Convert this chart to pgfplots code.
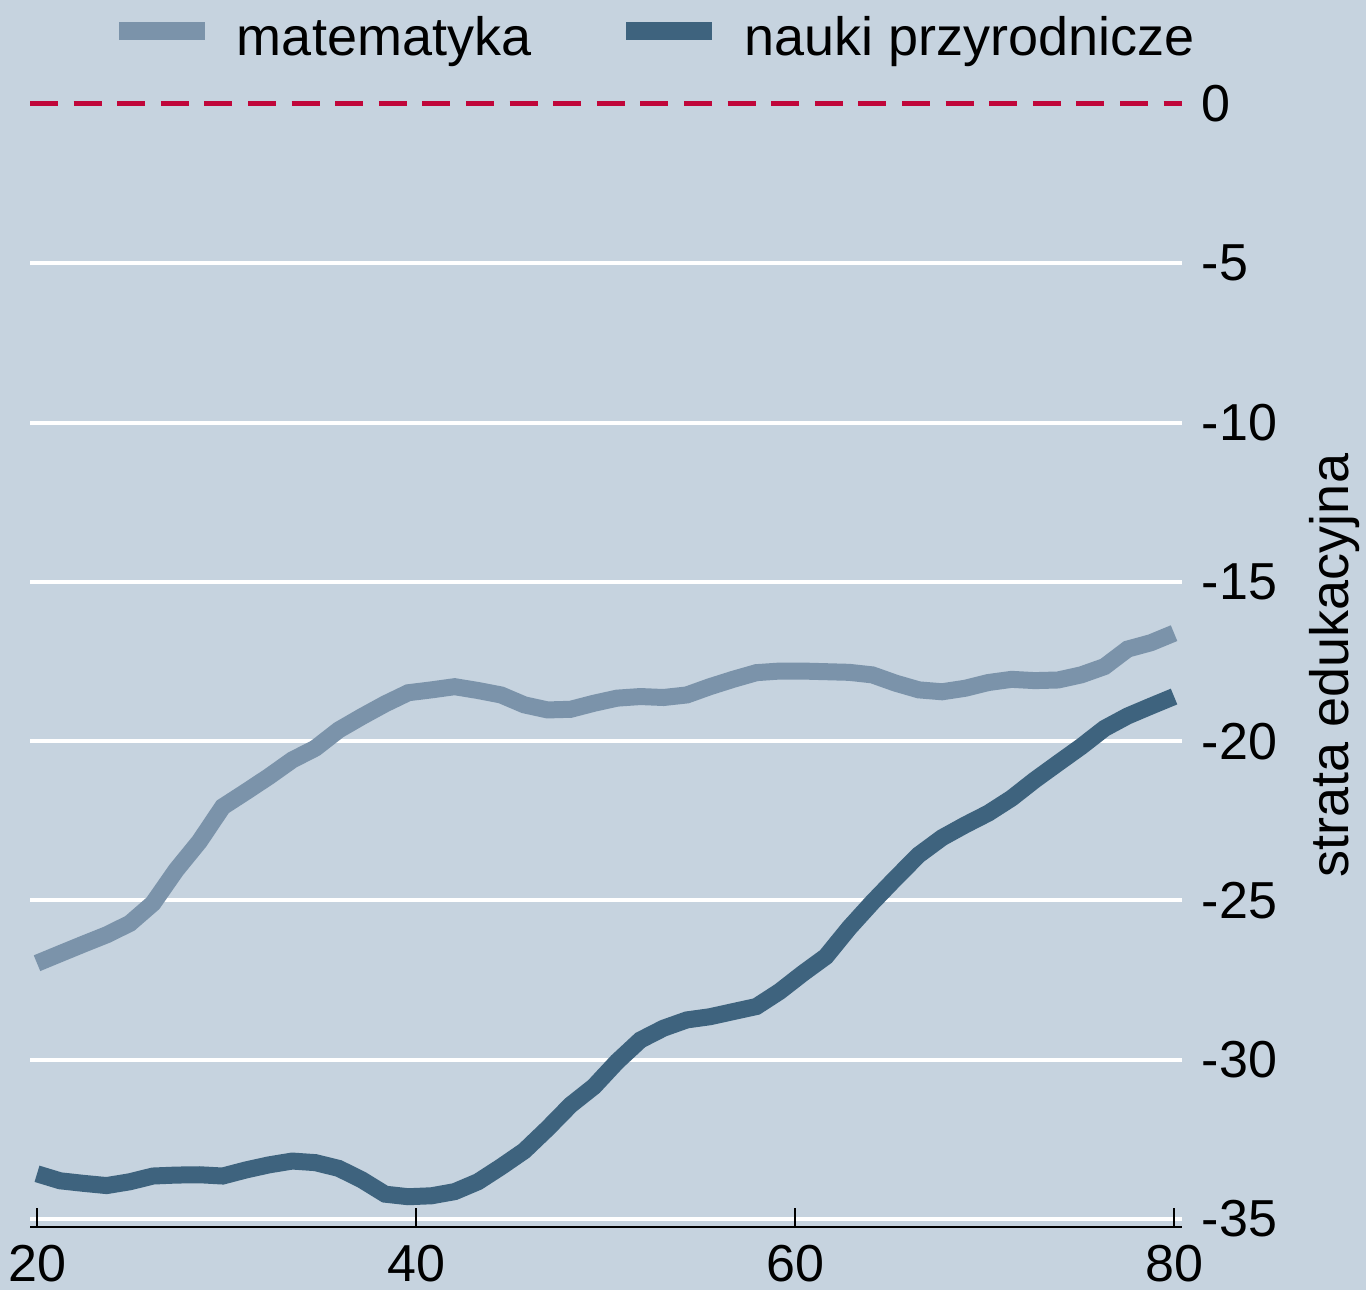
\documentclass[border=0pt]{standalone}
\usepackage{fontspec}
\setmainfont{Liberation Sans}
\usepackage{pgfplots}
\usepackage{pgfplotstable}
\pgfplotsset{compat=1.18}
\definecolor{bg}{HTML}{C6D3DF}
\definecolor{matc}{HTML}{7B93AA}
\definecolor{naukc}{HTML}{3E637E}
\definecolor{zeroc}{HTML}{C0063A}

\pgfplotstableread{
x y
20.00 -26.97
21.22 -26.67
22.45 -26.37
23.67 -26.08
24.90 -25.72
26.12 -25.09
27.35 -24.04
28.57 -23.15
29.80 -22.06
31.02 -21.59
32.24 -21.11
33.47 -20.59
34.69 -20.22
35.92 -19.65
37.14 -19.23
38.37 -18.83
39.59 -18.48
40.82 -18.39
42.04 -18.29
43.27 -18.41
44.49 -18.55
45.71 -18.86
46.94 -19.02
48.16 -19.00
49.39 -18.81
50.61 -18.65
51.84 -18.60
53.06 -18.63
54.29 -18.55
55.51 -18.29
56.73 -18.06
57.96 -17.85
59.18 -17.80
60.41 -17.80
61.63 -17.82
62.86 -17.84
64.08 -17.92
65.31 -18.18
66.53 -18.39
67.76 -18.45
68.98 -18.34
70.20 -18.16
71.43 -18.06
72.65 -18.10
73.88 -18.08
75.10 -17.92
76.33 -17.66
77.55 -17.11
78.78 -16.91
80.00 -16.61
}\matdata

\pgfplotstableread{
x y
20.00 -33.58
21.22 -33.80
22.45 -33.88
23.67 -33.95
24.90 -33.83
26.12 -33.65
27.35 -33.62
28.57 -33.61
29.80 -33.65
31.02 -33.46
32.24 -33.30
33.47 -33.18
34.69 -33.23
35.92 -33.41
37.14 -33.77
38.37 -34.22
39.59 -34.30
40.82 -34.27
42.04 -34.14
43.27 -33.83
44.49 -33.36
45.71 -32.86
46.94 -32.16
48.16 -31.42
49.39 -30.84
50.61 -30.06
51.84 -29.38
53.06 -29.01
54.29 -28.75
55.51 -28.65
56.73 -28.49
57.96 -28.33
59.18 -27.86
60.41 -27.29
61.63 -26.76
62.86 -25.86
64.08 -25.06
65.31 -24.30
66.53 -23.57
67.76 -23.03
68.98 -22.63
70.20 -22.26
71.43 -21.79
72.65 -21.22
73.88 -20.69
75.10 -20.17
76.33 -19.60
77.55 -19.21
78.78 -18.90
80.00 -18.60
}\naukdata

\begin{document}
\begin{tikzpicture}
\fill[bg] (-15pt,-31.5pt) rectangle (668pt,613.5pt);
\path[use as bounding box] (-15pt,-31.5pt) rectangle (668pt,613.5pt);
\begin{axis}[
  at={(0pt,0pt)}, anchor=south west,
  scale only axis, width=576pt, height=561.5pt,
  xmin=19.63, xmax=80.42, ymin=-35.25, ymax=0,
  clip=false,
  axis x line=bottom, axis y line=right,
  x axis line style={black, line width=1pt, -},
  y axis line style={draw=none},
  xtick={20,40,60,80},
  ytick={-35,-30,-25,-20,-15,-10,-5},
  extra y ticks={0},
  extra y tick style={major grid style={zeroc, line width=2.5pt, dash pattern=on 14pt off 7.8pt}},
  xtick align=inside, major tick length=9.5pt,
  x tick style={black, line width=1pt},
  y tick style={draw=none},
  ymajorgrids, major grid style={white, line width=2pt},
  /pgf/number format/assume math mode=true,
  tick label style={font=\fontsize{26}{26}\selectfont},
  xticklabel style={anchor=north, inner sep=0pt, yshift=-9pt},
  yticklabel style={anchor=west, inner sep=0pt, xshift=5pt},
  ylabel={strata edukacyjna},
  ylabel style={font=\fontsize{27}{27}\selectfont, at={(axis description cs:1,0.5)}, anchor=center, yshift=-76.5pt},
  legend columns=2,
  legend style={at={(axis description cs:0,1)}, anchor=west, xshift=44.5pt, yshift=33.5pt,
    draw=none, fill=none, inner sep=0pt, outer sep=0pt,
    font=\fontsize{27}{27}\selectfont,
    nodes={inner sep=0pt},
    /tikz/every odd column/.append style={column sep=16pt},
    /tikz/every even column/.append style={column sep=47.5pt}},
  legend image code/.code={\fill[#1, draw=none] (0pt,-1.5pt) rectangle (43pt,7.5pt);},
]
\addplot[matc, line width=8.5pt] table[x=x,y=y] {\matdata};
\addlegendentry{matematyka}
\addplot[naukc, line width=8.5pt] table[x=x,y=y] {\naukdata};
\addlegendentry{nauki przyrodnicze}
\end{axis}
\end{tikzpicture}
\end{document}
